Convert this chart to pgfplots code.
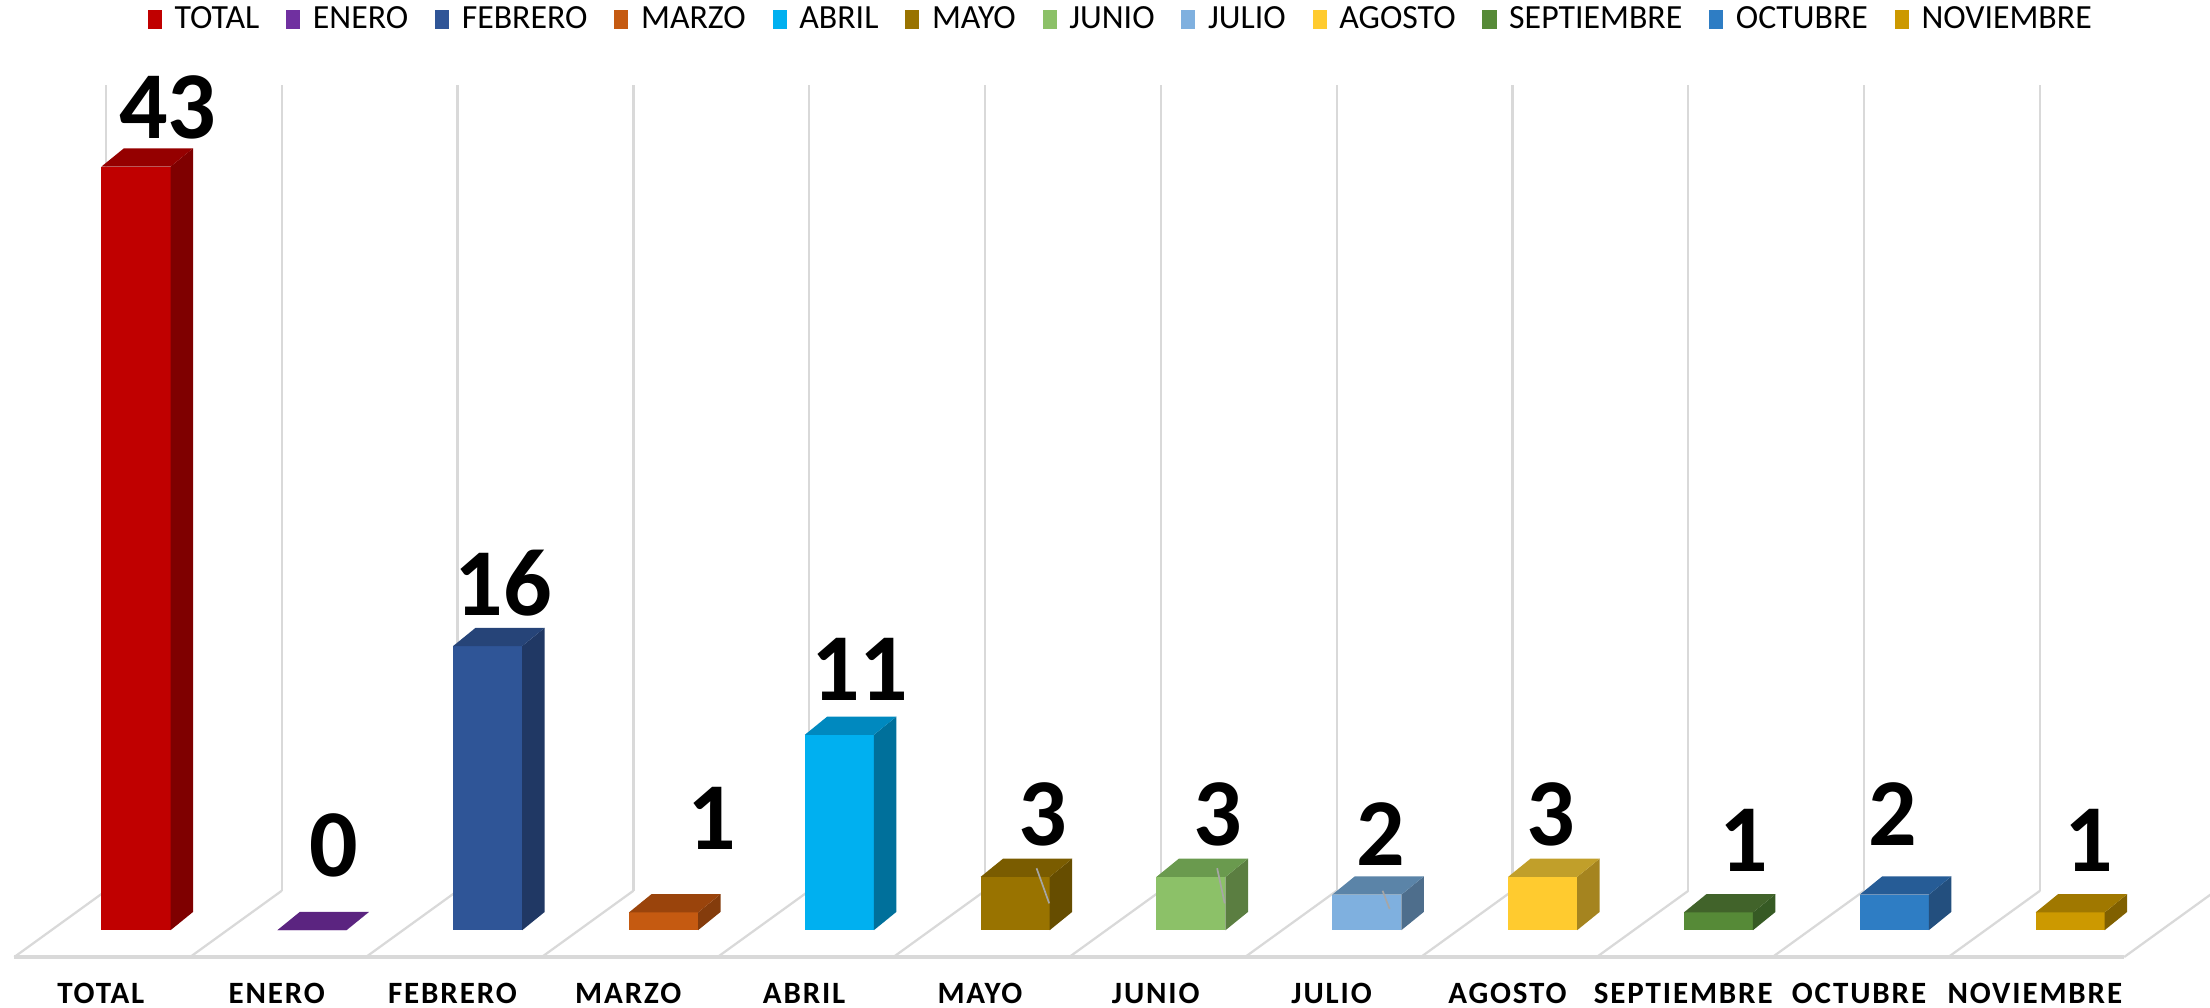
\documentclass[border=0pt]{standalone}
\usepackage{fontspec}
\setmainfont{Carlito}
\usepackage{pgfplots}
\pgfplotsset{compat=1.18}
\definecolor{gridc}{HTML}{D9D9D9}
\definecolor{leadc}{HTML}{A6A6A6}
\definecolor{f0}{HTML}{C00000}\definecolor{s0}{HTML}{7F0000}\definecolor{t0}{HTML}{950000}
\definecolor{f1}{HTML}{7030A0}\definecolor{s1}{HTML}{4B1F6B}\definecolor{t1}{HTML}{5B2480}
\definecolor{f2}{HTML}{2F5597}\definecolor{s2}{HTML}{203864}\definecolor{t2}{HTML}{264478}
\definecolor{f3}{HTML}{C55A11}\definecolor{s3}{HTML}{843C0C}\definecolor{t3}{HTML}{9A440C}
\definecolor{f4}{HTML}{00B0F0}\definecolor{s4}{HTML}{00709B}\definecolor{t4}{HTML}{0089BF}
\definecolor{f5}{HTML}{997300}\definecolor{s5}{HTML}{664D00}\definecolor{t5}{HTML}{7A5C00}
\definecolor{f6}{HTML}{8CC168}\definecolor{s6}{HTML}{5B7E41}\definecolor{t6}{HTML}{6A9A4E}
\definecolor{f7}{HTML}{7FB0DF}\definecolor{s7}{HTML}{4E6E8C}\definecolor{t7}{HTML}{5B84A8}
\definecolor{f8}{HTML}{FFCB2F}\definecolor{s8}{HTML}{A5841F}\definecolor{t8}{HTML}{C19F2A}
\definecolor{f9}{HTML}{568A37}\definecolor{s9}{HTML}{365A24}\definecolor{t9}{HTML}{41632A}
\definecolor{f10}{HTML}{2E7DC4}\definecolor{s10}{HTML}{234F7E}\definecolor{t10}{HTML}{265C96}
\definecolor{f11}{HTML}{CC9900}\definecolor{s11}{HTML}{806000}\definecolor{t11}{HTML}{A07800}
% #1 index, #2 value, #3 front, #4 side, #5 top, #6 label dx, #7 label gap
\newcommand\bart[7]{%
  \pgfmathsetmacro\xl{#1-0.1965}%
  \pgfmathsetmacro\xr{#1+0.1965}%
  \pgfmathsetmacro\xlb{#1-0.1965+0.128}%
  \pgfmathsetmacro\xrb{#1+0.1965+0.128}%
  \pgfmathsetmacro\yb{#2+1.03}%
  \pgfmathsetmacro\xn{#1+#6}%
  \pgfmathsetmacro\yn{#2+1.03+#7}%
  \edef\doit{%
    \noexpand\addplot[fill=#3,draw=none] coordinates {(\xl,0) (\xr,0) (\xr,#2) (\xl,#2)} -- cycle;
    \noexpand\addplot[fill=#4,draw=none,forget plot] coordinates {(\xr,0) (\xrb,1.03) (\xrb,\yb) (\xr,#2)} -- cycle;
    \noexpand\addplot[fill=#5,draw=none,forget plot] coordinates {(\xl,#2) (\xr,#2) (\xrb,\yb) (\xlb,\yb)} -- cycle;
    \noexpand\addplot[draw=none,mark=none,forget plot,nodes near coords,point meta=explicit symbolic] coordinates {(\xn,\yn) [#2]};
  }\doit}
\begin{document}
\begin{tikzpicture}
\begin{axis}[
  scale only axis, width=784pt, height=357.5pt,
  xmin=-0.7735, xmax=11.796, ymin=-4.365, ymax=52.38,
  axis line style={draw=none}, tick style={draw=none},
  ymajorticks=false,
  xtick={-0.2,0.8,1.8,2.8,3.8,4.8,5.8,6.8,7.8,8.8,9.8,10.8},
  xticklabels={TOTAL,ENERO,FEBRERO,MARZO,ABRIL,MAYO,JUNIO,JULIO,AGOSTO,SEPTIEMBRE,OCTUBRE,NOVIEMBRE},
  xticklabel style={font=\addfontfeature{LetterSpace=6}\bfseries\fontsize{11}{13}\selectfont, anchor=center, yshift=5pt},
  every node near coord/.append style={font=\bfseries\fontsize{34}{34}\selectfont, anchor=base, inner sep=0pt, text=black},
  legend columns=12,
  legend style={at={(rel axis cs:0.508,0.9804)}, anchor=center, draw=none, fill=none,
    font=\fontsize{12}{14}\selectfont, inner sep=0pt,
    /tikz/every odd column/.append style={column sep=2.5pt},
    /tikz/every even column/.append style={column sep=7.5pt}},
  legend image code/.code={\fill (0pt,-3.4pt) rectangle (5pt,3.4pt);},
]
% back wall gridlines
\addplot[gridc,line width=0.8pt,forget plot] coordinates {(-0.171,2.222) (-0.171,47.62)};
\addplot[gridc,line width=0.8pt,forget plot] coordinates {(0.829,2.222) (0.829,47.62)};
\addplot[gridc,line width=0.8pt,forget plot] coordinates {(1.829,2.222) (1.829,47.62)};
\addplot[gridc,line width=0.8pt,forget plot] coordinates {(2.829,2.222) (2.829,47.62)};
\addplot[gridc,line width=0.8pt,forget plot] coordinates {(3.829,2.222) (3.829,47.62)};
\addplot[gridc,line width=0.8pt,forget plot] coordinates {(4.829,2.222) (4.829,47.62)};
\addplot[gridc,line width=0.8pt,forget plot] coordinates {(5.829,2.222) (5.829,47.62)};
\addplot[gridc,line width=0.8pt,forget plot] coordinates {(6.829,2.222) (6.829,47.62)};
\addplot[gridc,line width=0.8pt,forget plot] coordinates {(7.829,2.222) (7.829,47.62)};
\addplot[gridc,line width=0.8pt,forget plot] coordinates {(8.829,2.222) (8.829,47.62)};
\addplot[gridc,line width=0.8pt,forget plot] coordinates {(9.829,2.222) (9.829,47.62)};
\addplot[gridc,line width=0.8pt,forget plot] coordinates {(10.829,2.222) (10.829,47.62)};
% floor diagonals
\addplot[gridc,line width=0.8pt,forget plot] coordinates {(-0.692,-1.508) (-0.171,2.222)};
\addplot[gridc,line width=0.8pt,forget plot] coordinates {(0.308,-1.508) (0.829,2.222)};
\addplot[gridc,line width=0.8pt,forget plot] coordinates {(1.308,-1.508) (1.829,2.222)};
\addplot[gridc,line width=0.8pt,forget plot] coordinates {(2.308,-1.508) (2.829,2.222)};
\addplot[gridc,line width=0.8pt,forget plot] coordinates {(3.308,-1.508) (3.829,2.222)};
\addplot[gridc,line width=0.8pt,forget plot] coordinates {(4.308,-1.508) (4.829,2.222)};
\addplot[gridc,line width=0.8pt,forget plot] coordinates {(5.308,-1.508) (5.829,2.222)};
\addplot[gridc,line width=0.8pt,forget plot] coordinates {(6.308,-1.508) (6.829,2.222)};
\addplot[gridc,line width=0.8pt,forget plot] coordinates {(7.308,-1.508) (7.829,2.222)};
\addplot[gridc,line width=0.8pt,forget plot] coordinates {(8.308,-1.508) (8.829,2.222)};
\addplot[gridc,line width=0.8pt,forget plot] coordinates {(9.308,-1.508) (9.829,2.222)};
\addplot[gridc,line width=0.8pt,forget plot] coordinates {(10.308,-1.508) (10.829,2.222)};
\addplot[gridc,line width=0.8pt,forget plot] coordinates {(11.308,-1.508) (11.829,2.222)};
% floor front edge
\addplot[gridc,line width=1.3pt,forget plot] coordinates {(-0.692,-1.508) (11.308,-1.508)};
% bars
\bart{0}{43}{f0}{s0}{t0}{0.180}{0.57}
\bart{1}{0}{f1}{s1}{t1}{0.126}{1.99}
\bart{2}{16}{f2}{s2}{t2}{0.088}{0.67}
\bart{3}{1}{f3}{s3}{t3}{0.275}{2.49}
\bart{4}{11}{f4}{s4}{t4}{0.116}{0.91}
\bart{5}{3}{f5}{s5}{t5}{0.158}{0.73}
\bart{6}{3}{f6}{s6}{t6}{0.152}{0.73}
\bart{7}{2}{f7}{s7}{t7}{0.082}{0.62}
\bart{8}{3}{f8}{s8}{t8}{0.044}{0.73}
\bart{9}{1}{f9}{s9}{t9}{0.142}{1.30}
\bart{10}{2}{f10}{s10}{t10}{-0.008}{1.73}
\bart{11}{1}{f11}{s11}{t11}{0.106}{1.30}
% label leader lines
\addplot[leadc,line width=0.6pt,forget plot] coordinates {(5.122,3.49) (5.194,1.51)};
\addplot[leadc,line width=0.6pt,forget plot] coordinates {(6.149,3.49) (6.192,1.51)};
\addplot[leadc,line width=0.6pt,forget plot] coordinates {(7.090,2.22) (7.130,1.19)};
\legend{TOTAL,ENERO,FEBRERO,MARZO,ABRIL,MAYO,JUNIO,JULIO,AGOSTO,SEPTIEMBRE,OCTUBRE,NOVIEMBRE}
\end{axis}
\pgfresetboundingbox
\useasboundingbox (current axis.south west) rectangle (current axis.north east);
\end{tikzpicture}
\end{document}
